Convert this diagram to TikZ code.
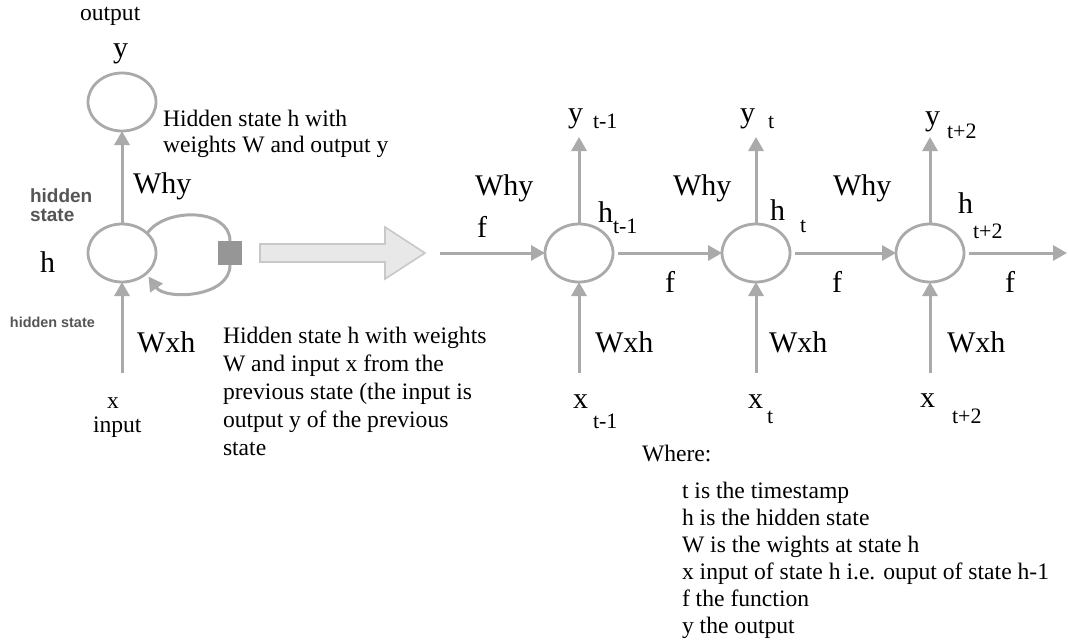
\documentclass[tikz,border=0pt]{standalone}
\usepackage{fontspec}
\setmainfont{Liberation Serif}
\newfontfamily\tagsans{Liberation Sans}
\usetikzlibrary{arrows.meta,positioning,shapes.geometric}
\definecolor{linegray}{RGB}{170,170,170}
\definecolor{boxgray}{RGB}{150,150,150}
\definecolor{tagcol}{RGB}{85,85,85}
\definecolor{fatfill}{RGB}{232,232,232}
\definecolor{fatline}{RGB}{200,200,200}

\begin{document}
\begin{tikzpicture}[
  x=0.5pt, y=0.5pt,
  every node/.style={inner sep=0pt, outer sep=0pt},
  cell/.style={ellipse, draw=linegray, line width=1.4pt,
    minimum width=34pt, minimum height=29pt},
  arr/.style={-{Triangle[length=7pt,width=7.5pt]}, line width=1.5pt, linegray},
  lp/.style={line width=1.5pt, linegray},
  big/.style={anchor=base west, font=\fontsize{15}{18}\selectfont},
  txt/.style={anchor=base west, font=\fontsize{11.8}{13}\selectfont},
  sub/.style={anchor=base west, font=\fontsize{11}{13}\selectfont},
  tag/.style={text=tagcol, font=\tagsans\bfseries}
]
  \useasboundingbox (0,0) rectangle (1068,-642);

  % folded unit
  \node[cell] (yc) at (122,-102) {};
  \node[cell] (h0) at (122,-253) {};
  \node[draw=none, fill=boxgray, minimum size=12pt] (sq) at (230,-253) {};
  \coordinate (x0tail) at (122,-373);

  \draw[arr] (h0.north) -- (yc.south);
  \draw[arr] (x0tail) -- (h0.south);
  \draw[lp] (h0.38) to[out=55,in=90] (sq.north);
  \draw[arr, shorten >=2pt] (sq.south) to[out=-90,in=-55] (h0.-40);

  \node[txt] (outlbl) at (80,-21) {output};
  \node[big] (y0) at (113,-58) {y};
  \node[txt, anchor=north west, align=left, font=\fontsize{11.8}{13}\selectfont]
    (ydesc) at (163,-110) {Hidden state h with\\weights W and output y};
  \node[big] (why0) at (133,-193) {Why};
  \node[tag, anchor=north west, align=left, font=\tagsans\bfseries\fontsize{9.5}{9.5}\selectfont]
    (hs) at (30,-189) {hidden\\state};
  \node[big] (h0lbl) at (40,-272) {h};
  \node[tag, anchor=base west, font=\tagsans\bfseries\fontsize{7.2}{8}\selectfont]
    (hs2) at (10,-327) {hidden state};
  \node[big] (wxh0) at (137,-352) {Wxh};
  \node[txt] (x0) at (107,-408) {x};
  \node[txt] (inlbl) at (93,-432) {input};
  \node[txt, anchor=north west, align=left, font=\fontsize{11.8}{14}\selectfont]
    (xdesc) at (223,-327) {Hidden state h with weights\\W and input x from the\\previous state (the input is\\output y of the previous\\state};

  % unfold arrow
  \draw[line width=0.8pt, draw=fatline, fill=fatfill]
    (260,-244) -- (385,-244) -- (385,-227) -- (425,-253)
    -- (385,-279) -- (385,-262) -- (260,-262) -- cycle;

  % unrolled chain
  \node[cell] (c1) at (579,-253) {};
  \node[cell] (c2) at (756,-253) {};
  \node[cell] (c3) at (930,-253) {};
  \coordinate (inL) at (440,-253);
  \coordinate (outR) at (1067,-253);
  \coordinate (y1tip) at (579,-137);
  \coordinate (y2tip) at (756,-137);
  \coordinate (y3tip) at (930,-137);
  \coordinate (x1tail) at (579,-373);
  \coordinate (x2tail) at (756,-373);
  \coordinate (x3tail) at (930,-373);

  \draw[arr] (inL) -- (c1.west);
  \draw[arr, shorten <=2.5pt] (c1.east) -- (c2.west);
  \draw[arr, shorten <=2.5pt] (c2.east) -- (c3.west);
  \draw[arr, shorten <=2.5pt] (c3.east) -- (outR);
  \draw[arr] (c1.north) -- (y1tip);
  \draw[arr] (c2.north) -- (y2tip);
  \draw[arr] (c3.north) -- (y3tip);
  \draw[arr] (x1tail) -- (c1.south);
  \draw[arr] (x2tail) -- (c2.south);
  \draw[arr] (x3tail) -- (c3.south);

  \node[big] (y1) at (568,-122) {y};
  \node[sub] (y1s) at (593,-128) {t-1};
  \node[big] (y2) at (740,-122) {y};
  \node[sub] (y2s) at (768,-128) {t};
  \node[big] (y3) at (925,-125) {y};
  \node[sub] (y3s) at (947,-138) {t+2};

  \node[big] (why1) at (475,-195) {Why};
  \node[big] (why2) at (673,-195) {Why};
  \node[big] (why3) at (833,-195) {Why};
  \node[big] (fin) at (477,-237) {f};

  \node[big] (h1) at (598,-222) {h};
  \node[sub] (h1s) at (613,-233) {t-1};
  \node[big] (h2) at (770,-220) {h};
  \node[sub] (h2s) at (800,-232) {t};
  \node[big] (h3) at (958,-213) {h};
  \node[sub] (h3s) at (973,-238) {t+2};

  \node[big] (f1) at (665,-292) {f};
  \node[big] (f2) at (832,-292) {f};
  \node[big] (f3) at (1005,-292) {f};

  \node[big] (wxh1) at (595,-352) {Wxh};
  \node[big] (wxh2) at (769,-352) {Wxh};
  \node[big] (wxh3) at (947,-352) {Wxh};

  \node[big] (x1) at (573,-408) {x};
  \node[sub] (x1s) at (593,-428) {t-1};
  \node[big] (x2) at (748,-408) {x};
  \node[sub] (x2s) at (767,-423) {t};
  \node[big] (x3) at (920,-407) {x};
  \node[sub] (x3s) at (952,-423) {t+2};

  % legend
  \node[txt] (where) at (642,-461) {Where:};
  \node[anchor=north west, align=left, font=\fontsize{11.8}{13.5}\selectfont]
    (legend) at (682,-482) {t is the timestamp\\h is the hidden state\\W is the wights at state h\\x input of state h i.e. ouput of state h-1\\f the function\\y the output};
\end{tikzpicture}
\end{document}
